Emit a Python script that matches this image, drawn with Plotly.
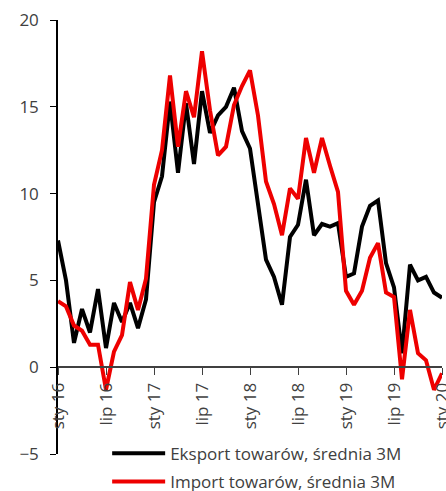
import plotly.graph_objects as go

months_pl = ["sty", "lut", "mar", "kwi", "maj", "cze", "lip", "sie", "wrz", "paź", "lis", "gru"]
categories = [f"{m} {y}" for y in range(16, 20) for m in months_pl] + ["sty 20"]

eksport = [7.3, 5.0, 1.4, 3.35, 2.0, 4.5, 1.1, 3.7, 2.6, 3.7, 2.25, 3.9,
           9.5, 11.0, 15.3, 11.2, 15.2, 11.7, 15.9, 13.5, 14.5, 15.0, 16.1, 13.6,
           12.6, 9.2, 6.2, 5.2, 3.6, 7.5, 8.2, 10.8, 7.6, 8.25, 8.1, 8.3,
           5.2, 5.4, 8.1, 9.3, 9.6, 6.0, 4.6, 0.8, 5.9, 5.0, 5.2, 4.3,
           4.0]
importy = [3.8, 3.5, 2.4, 2.1, 1.3, 1.3, -1.3, 0.9, 1.85, 4.9, 3.3, 5.1,
           10.5, 12.5, 16.8, 12.7, 15.9, 14.4, 18.2, 14.8, 12.2, 12.7, 15.1, 16.2,
           17.1, 14.5, 10.7, 9.4, 7.6, 10.3, 9.7, 13.2, 11.2, 13.2, 11.6, 10.1,
           4.4, 3.6, 4.4, 6.3, 7.15, 4.3, 4.05, -0.7, 3.3, 0.8, 0.4, -1.3,
           -0.35]

tick_labels = ["sty 16", "lip 16", "sty 17", "lip 17", "sty 18", "lip 18", "sty 19", "lip 19", "sty 20"]
y_ticks = [-5, 0, 5, 10, 15, 20]

FONT = "Open Sans"
TXT = "#404040"

fig = go.Figure()
fig.add_trace(go.Scatter(x=categories, y=eksport, mode="lines",
                         name="Eksport towarów, średnia 3M",
                         line=dict(color="#000000", width=4), legendgroup="a"))
fig.add_trace(go.Scatter(x=categories, y=importy, mode="lines",
                         name="Import towarów, średnia 3M",
                         line=dict(color="#ee0000", width=4), legendgroup="b"))

fig.update_layout(
    width=446, height=491,
    margin=dict(l=58, r=4, t=20, b=37, autoexpand=False),
    paper_bgcolor="white", plot_bgcolor="white",
    font=dict(family=FONT, size=17, color=TXT),
    showlegend=True,
    legend=dict(x=0.128, y=0.042, xanchor="left", yanchor="top",
                bgcolor="rgba(0,0,0,0)", font=dict(size=17, color=TXT),
                tracegroupgap=3, itemwidth=53),
    xaxis=dict(type="category", categoryorder="array", categoryarray=categories,
               range=[0, len(categories) - 1],
               tickmode="array", tickvals=tick_labels, ticktext=tick_labels,
               tickangle=-90, ticks="outside", ticklen=7, tickcolor=TXT,
               showline=True, linecolor=TXT, linewidth=1.5,
               showgrid=False, zeroline=False, automargin=False,
               anchor="free", position=0.2, ticklabelstandoff=1,
               tickfont=dict(size=17, color=TXT)),
    yaxis=dict(range=[-5, 20], tickvals=y_ticks, ticks="outside", ticklen=6,
               tickcolor="#000000", showline=True, linecolor="#000000", linewidth=1.5,
               showgrid=False, zeroline=False, ticklabelstandoff=8, automargin=False,
               tickfont=dict(size=17, color=TXT)),
)

fig.write_html("out.html")
